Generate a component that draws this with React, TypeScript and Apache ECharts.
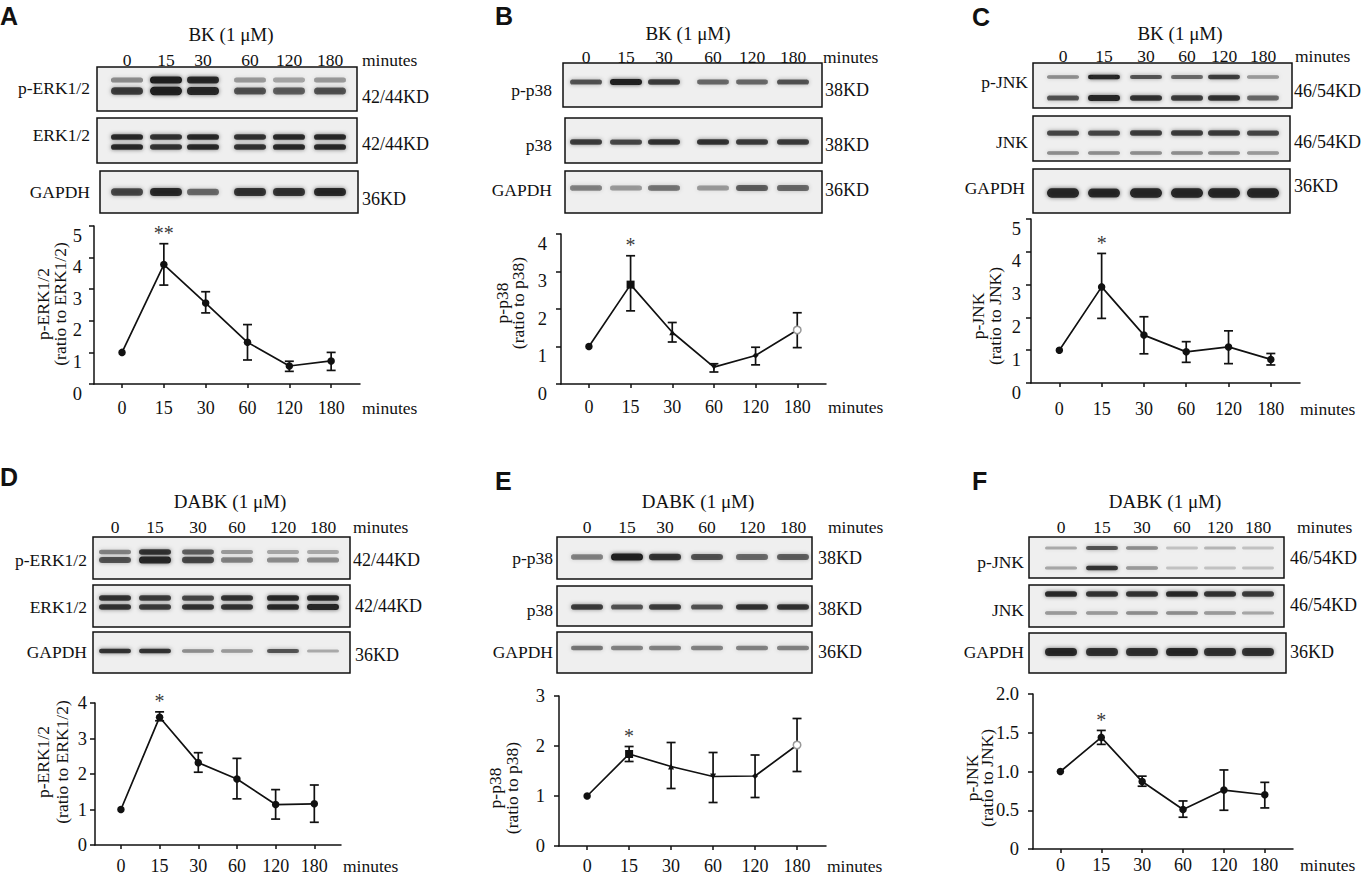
import React, { useEffect, useRef } from 'react';
import * as echarts from 'echarts';

// ---------- data ----------
const CATS = ['0', '15', '30', '60', '120', '180'];

const A_MEAN = [1, 3.78, 2.56, 1.32, 0.57, 0.73];
const A_UPPER = [1, 4.44, 2.92, 1.88, 0.72, 1.0];
const A_LOWER = [1, 3.13, 2.25, 0.76, 0.4, 0.43];

const B_MEAN = [1, 2.65, 1.38, 0.45, 0.76, 1.44];
const B_UPPER = [1, 3.42, 1.64, 0.54, 0.98, 1.9];
const B_LOWER = [1, 1.95, 1.12, 0.32, 0.51, 0.97];

const C_MEAN = [1, 2.93, 1.46, 0.95, 1.1, 0.72];
const C_UPPER = [1, 3.95, 2.02, 1.26, 1.59, 0.9];
const C_LOWER = [1, 1.97, 0.89, 0.63, 0.59, 0.55];

const D_MEAN = [1, 3.6, 2.32, 1.86, 1.14, 1.16];
const D_UPPER = [1, 3.75, 2.6, 2.44, 1.56, 1.69];
const D_LOWER = [1, 3.5, 2.05, 1.3, 0.73, 0.64];

const E_MEAN = [1, 1.84, 1.59, 1.39, 1.4, 2.02];
const E_UPPER = [1, 1.99, 2.07, 1.87, 1.82, 2.55];
const E_LOWER = [1, 1.69, 1.15, 0.87, 0.97, 1.49];

const F_MEAN = [1, 1.44, 0.87, 0.51, 0.76, 0.7];
const F_UPPER = [1, 1.53, 0.94, 0.62, 1.02, 0.86];
const F_LOWER = [1, 1.35, 0.81, 0.41, 0.5, 0.53];

const MEANS = [A_MEAN, B_MEAN, C_MEAN, D_MEAN, E_MEAN, F_MEAN];
const UPPERS = [A_UPPER, B_UPPER, C_UPPER, D_UPPER, E_UPPER, F_UPPER];
const LOWERS = [A_LOWER, B_LOWER, C_LOWER, D_LOWER, E_LOWER, F_LOWER];

const SIG = ['**', '*', '*', '*', '*', '*'];
const Y_MAX = [5, 4, 5, 4, 3, 2];
const Y_STEP = [1, 1, 1, 1, 1, 0.5];
const Y_NAMES = [
  ['p-ERK1/2', '(ratio to ERK1/2)'],
  ['p-p38', '(ratio to p38)'],
  ['p-JNK', '(ratio to JNK)'],
  ['p-ERK1/2', '(ratio to ERK1/2)'],
  ['p-p38', '(ratio to p38)'],
  ['p-JNK', '(ratio to JNK)'],
];
const LETTERS = ['A', 'B', 'C', 'D', 'E', 'F'];
const TREATMENTS = ['BK (1 μM)', 'BK (1 μM)', 'BK (1 μM)', 'DABK (1 μM)', 'DABK (1 μM)', 'DABK (1 μM)'];

// blot band intensities (0..1), per lane
const A_PERK44 = [0.45, 1, 0.9, 0.4, 0.35, 0.4];
const A_PERK42 = [0.8, 1, 0.95, 0.7, 0.65, 0.7];
const A_ERK44 = [0.9, 0.85, 0.9, 0.85, 0.9, 0.9];
const A_ERK42 = [0.9, 0.85, 0.9, 0.85, 0.9, 0.9];
const A_GAPDH = [0.75, 0.9, 0.6, 0.85, 0.85, 0.9];

const B_PP38 = [0.7, 1, 0.8, 0.6, 0.6, 0.7];
const B_P38 = [0.8, 0.75, 0.85, 0.85, 0.8, 0.8];
const B_GAPDH = [0.5, 0.4, 0.55, 0.4, 0.65, 0.6];

const C_PJNK54 = [0.45, 0.95, 0.7, 0.6, 0.8, 0.4];
const C_PJNK46 = [0.7, 0.95, 0.85, 0.8, 0.85, 0.6];
const C_JNK54 = [0.75, 0.75, 0.8, 0.8, 0.8, 0.75];
const C_JNK46 = [0.45, 0.45, 0.45, 0.45, 0.45, 0.4];
const C_GAPDH = [0.95, 0.9, 0.95, 0.95, 0.95, 0.95];

const D_PERK44 = [0.5, 0.85, 0.65, 0.4, 0.35, 0.3];
const D_PERK42 = [0.7, 0.95, 0.75, 0.5, 0.45, 0.45];
const D_ERK44 = [0.85, 0.8, 0.75, 0.85, 0.9, 0.9];
const D_ERK42 = [0.85, 0.8, 0.85, 0.85, 0.9, 0.95];
const D_GAPDH = [0.85, 0.85, 0.45, 0.4, 0.7, 0.3];

const E_PP38 = [0.5, 1, 0.85, 0.7, 0.6, 0.65];
const E_P38 = [0.8, 0.7, 0.8, 0.7, 0.85, 0.85];
const E_GAPDH = [0.55, 0.5, 0.5, 0.5, 0.5, 0.5];

const F_PJNK54 = [0.3, 0.7, 0.45, 0.2, 0.25, 0.2];
const F_PJNK46 = [0.35, 0.85, 0.4, 0.2, 0.2, 0.2];
const F_JNK54 = [0.9, 0.85, 0.85, 0.9, 0.85, 0.8];
const F_JNK46 = [0.4, 0.4, 0.45, 0.45, 0.4, 0.35];
const F_GAPDH = [0.9, 0.85, 0.85, 0.9, 0.85, 0.85];

// ---------- layout ----------
const SERIF = '"Liberation Serif", "Times New Roman", serif';
const SANS = '"Liberation Sans", Arial, sans-serif';
const X_MIN = -0.67;
const X_MAX = 5.69;
const MIXED = ['circle', 'rect', 'triangle', 'triangle', 'diamond', 'circle'];

const LAYOUT: any[] = [
  {
    letter: [0, 16], treat: [231, 34], laneY: 60, laneX: [127, 166, 203, 250, 289, 330], minX: 362,
    rows: [
      { label: 'p-ERK1/2', kd: '42/44KD', box: [97, 67, 357, 111], lr: 90, ly: 88, kx: 362, ky: 97, by: [80, 91], bh: [6, 7], bands: [A_PERK44, A_PERK42] },
      { label: 'ERK1/2', kd: '42/44KD', box: [97, 118, 357, 163], lr: 90, ly: 135, kx: 362, ky: 144, by: [137, 147], bh: [5, 5], bands: [A_ERK44, A_ERK42] },
      { label: 'GAPDH', kd: '36KD', box: [100, 171, 358, 213], lr: 90, ly: 192, kx: 362, ky: 199, by: [192], bh: [7], bands: [A_GAPDH] },
    ],
    grid: { left: 94, top: 226, width: 266, height: 158 }, yLabelTop: true, yMargin: 12,
    yNameX: [43, 60], yNameY: 304, xLabelY: 408, chartMinX: 362, mixed: false,
  },
  {
    letter: [495, 16], treat: [688, 33], laneY: 57, laneX: [586, 626, 664, 713, 752, 793], minX: 823,
    rows: [
      { label: 'p-p38', kd: '38KD', box: [563, 63, 822, 107], lr: 552, ly: 90, kx: 825, ky: 90, by: [82], bh: [5], bands: [B_PP38] },
      { label: 'p38', kd: '38KD', box: [565, 118, 822, 163], lr: 552, ly: 145, kx: 825, ky: 145, by: [142], bh: [5], bands: [B_P38] },
      { label: 'GAPDH', kd: '36KD', box: [565, 171, 822, 213], lr: 552, ly: 190, kx: 825, ky: 190, by: [188], bh: [6], bands: [B_GAPDH] },
    ],
    grid: { left: 561, top: 234, width: 265, height: 150 }, yLabelTop: true, yMargin: 14,
    yNameX: [502, 518], yNameY: 303, xLabelY: 407, chartMinX: 828, mixed: true,
  },
  {
    letter: [972, 17], treat: [1180, 33], laneY: 56, laneX: [1063, 1104, 1146, 1187, 1224, 1263], minX: 1295,
    rows: [
      { label: 'p-JNK', kd: '46/54KD', box: [1033, 63, 1292, 108], lr: 1028, ly: 82, kx: 1294, ky: 91, by: [77, 98], bh: [4, 5], bands: [C_PJNK54, C_PJNK46] },
      { label: 'JNK', kd: '46/54KD', box: [1033, 116, 1290, 161], lr: 1028, ly: 142, kx: 1294, ky: 142, by: [133, 153], bh: [5, 4], bands: [C_JNK54, C_JNK46] },
      { label: 'GAPDH', kd: '36KD', box: [1033, 169, 1290, 213], lr: 1025, ly: 188, kx: 1294, ky: 186, by: [193], bh: [8], bands: [C_GAPDH] },
    ],
    grid: { left: 1031, top: 219, width: 269, height: 164 }, yLabelTop: true, yMargin: 10,
    yNameX: [978, 995], yNameY: 316, xLabelY: 409, chartMinX: 1300, mixed: false,
  },
  {
    letter: [0, 477], treat: [230, 501], laneY: 527, laneX: [115, 155, 198, 237, 283, 323], minX: 353,
    rows: [
      { label: 'p-ERK1/2', kd: '42/44KD', box: [93, 537, 350, 579], lr: 87, ly: 560, kx: 353, ky: 560, by: [552, 560], bh: [5, 6], bands: [D_PERK44, D_PERK42] },
      { label: 'ERK1/2', kd: '42/44KD', box: [93, 585, 350, 627], lr: 87, ly: 607, kx: 355, ky: 606, by: [598, 607], bh: [5, 5], bands: [D_ERK44, D_ERK42] },
      { label: 'GAPDH', kd: '36KD', box: [93, 632, 350, 673], lr: 87, ly: 652, kx: 355, ky: 655, by: [651], bh: [4], bands: [D_GAPDH] },
    ],
    grid: { left: 95, top: 703, width: 246, height: 142 }, yLabelTop: false, yMargin: 8,
    yNameX: [43, 62], yNameY: 762, xLabelY: 866, chartMinX: 343, mixed: false,
  },
  {
    letter: [495, 481], treat: [698, 501], laneY: 527, laneX: [587, 627, 665, 707, 752, 793], minX: 828,
    rows: [
      { label: 'p-p38', kd: '38KD', box: [557, 537, 812, 579], lr: 553, ly: 558, kx: 818, ky: 558, by: [557], bh: [6], bands: [E_PP38] },
      { label: 'p38', kd: '38KD', box: [557, 586, 812, 626], lr: 553, ly: 610, kx: 818, ky: 609, by: [607], bh: [5], bands: [E_P38] },
      { label: 'GAPDH', kd: '36KD', box: [557, 632, 812, 673], lr: 553, ly: 652, kx: 818, ky: 652, by: [648], bh: [5], bands: [E_GAPDH] },
    ],
    grid: { left: 559, top: 696, width: 267, height: 150 }, yLabelTop: false, yMargin: 14,
    yNameX: [495, 512], yNameY: 788, xLabelY: 866, chartMinX: 827, mixed: true,
  },
  {
    letter: [972, 481], treat: [1165, 501], laneY: 527, laneX: [1061, 1102, 1142, 1182, 1220, 1258], minX: 1297,
    rows: [
      { label: 'p-JNK', kd: '46/54KD', box: [1029, 537, 1284, 578], lr: 1024, ly: 562, kx: 1290, ky: 558, by: [548, 568], bh: [4, 4], bands: [F_PJNK54, F_PJNK46] },
      { label: 'JNK', kd: '46/54KD', box: [1029, 585, 1284, 627], lr: 1024, ly: 610, kx: 1290, ky: 605, by: [594, 613], bh: [5, 4], bands: [F_JNK54, F_JNK46] },
      { label: 'GAPDH', kd: '36KD', box: [1029, 633, 1286, 673], lr: 1024, ly: 652, kx: 1290, ky: 652, by: [652], bh: [7], bands: [F_GAPDH] },
    ],
    grid: { left: 1033, top: 694, width: 260, height: 155 }, yLabelTop: false, yMargin: 14,
    yNameX: [972, 987], yNameY: 778, xLabelY: 865, chartMinX: 1300, mixed: false,
  },
];

function txt(text: string, x: number, y: number, opts: any = {}) {
  return {
    type: 'text',
    x,
    y,
    rotation: opts.rotation || 0,
    silent: true,
    style: {
      text,
      fill: '#111',
      fontSize: opts.size || 17.5,
      fontFamily: opts.family || SERIF,
      fontWeight: opts.weight || 'normal',
      align: opts.align || 'center',
      verticalAlign: 'middle',
    },
  };
}

function buildOption() {
  const graphics: any[] = [];
  const grids: any[] = [];
  const xAxes: any[] = [];
  const yAxes: any[] = [];
  const series: any[] = [];

  LAYOUT.forEach((L, i) => {
    graphics.push(txt(LETTERS[i], L.letter[0], L.letter[1], { size: 25, family: SANS, weight: 'bold', align: 'left' }));
    graphics.push(txt(TREATMENTS[i], L.treat[0], L.treat[1], { size: 19 }));
    CATS.forEach((c, j) => graphics.push(txt(c, L.laneX[j], L.laneY, { size: 17.5 })));
    graphics.push(txt('minutes', L.minX, L.laneY, { size: 17.5, align: 'left' }));

    L.rows.forEach((r: any) => {
      const [x0, y0, x1, y1] = r.box;
      graphics.push({
        type: 'rect',
        silent: true,
        shape: { x: x0, y: y0, width: x1 - x0, height: y1 - y0 },
        style: { fill: '#efefef', stroke: '#111', lineWidth: 1.5 },
      });
      r.bands.forEach((arr: number[], k: number) => {
        arr.forEach((v: number, j: number) => {
          const h = r.bh[k] * (0.6 + 0.6 * v);
          const w = 32;
          const cx = L.laneX[j];
          graphics.push({
            type: 'rect',
            silent: true,
            shape: { x: cx - w / 2, y: r.by[k] - h / 2, width: w, height: h, r: h / 2 },
            style: {
              fill: `rgba(18,18,18,${v * 0.92})`,
              shadowBlur: 4,
              shadowColor: `rgba(18,18,18,${v * 0.7})`,
            },
          });
        });
      });
      graphics.push(txt(r.label, r.lr, r.ly, { align: 'right' }));
      graphics.push(txt(r.kd, r.kx, r.ky, { align: 'left', size: 18 }));
    });

    // y axis names (two lines, rotated)
    graphics.push(txt(Y_NAMES[i][0], L.yNameX[0], L.yNameY, { size: 17.5, rotation: Math.PI / 2 }));
    graphics.push(txt(Y_NAMES[i][1], L.yNameX[1], L.yNameY, { size: 17.5, rotation: Math.PI / 2 }));
    graphics.push(txt('minutes', L.chartMinX, L.xLabelY, { size: 17.5, align: 'left' }));

    const g = L.grid;
    grids.push({ left: g.left, top: g.top, width: g.width, height: g.height, containLabel: false, outerBoundsMode: 'none' });
    const xMargin = L.xLabelY - (g.top + g.height) - 9;
    xAxes.push({
      type: 'value',
      gridIndex: i,
      min: X_MIN,
      max: X_MAX,
      position: 'bottom',
      axisLine: { show: true, onZero: false, lineStyle: { color: '#111', width: 1.5 } },
      axisTick: { show: true, length: 4, customValues: [0, 1, 2, 3, 4, 5], lineStyle: { color: '#111', width: 1.5 } },
      axisLabel: {
        customValues: [0, 1, 2, 3, 4, 5],
        formatter: (v: number) => CATS[Math.round(v)],
        margin: xMargin,
        fontSize: 18,
        fontFamily: SERIF,
        color: '#111',
      },
      splitLine: { show: false },
    });
    yAxes.push({
      type: 'value',
      gridIndex: i,
      min: 0,
      max: Y_MAX[i],
      interval: Y_STEP[i],
      position: 'left',
      axisLine: { show: true, onZero: false, lineStyle: { color: '#111', width: 1.5 } },
      axisTick: { show: true, length: 5, lineStyle: { color: '#111', width: 1.5 } },
      axisLabel: {
        margin: L.yMargin,
        fontSize: 18.5,
        fontFamily: SERIF,
        color: '#111',
        verticalAlign: L.yLabelTop ? 'top' : 'middle',
        formatter: (v: number) => (Y_STEP[i] < 1 ? (v === 0 ? '0' : v.toFixed(1)) : String(v)),
      },
      splitLine: { show: false },
    });

    const mean = MEANS[i];
    const up = UPPERS[i];
    const lo = LOWERS[i];

    series.push({
      type: 'custom',
      xAxisIndex: i,
      yAxisIndex: i,
      z: 2,
      silent: true,
      data: CATS.map((c, j) => [j, lo[j], up[j]]).filter((d) => d[2] > d[1]),
      renderItem: (params: any, api: any) => {
        const x = api.value(0);
        const pLo = api.coord([x, api.value(1)]);
        const pHi = api.coord([x, api.value(2)]);
        const w = 4.5;
        const st = { stroke: '#111', lineWidth: 1.7 };
        return {
          type: 'group',
          children: [
            { type: 'line', shape: { x1: pLo[0], y1: pLo[1], x2: pHi[0], y2: pHi[1] }, style: st },
            { type: 'line', shape: { x1: pLo[0] - w, y1: pLo[1], x2: pLo[0] + w, y2: pLo[1] }, style: st },
            { type: 'line', shape: { x1: pHi[0] - w, y1: pHi[1], x2: pHi[0] + w, y2: pHi[1] }, style: st },
          ],
        };
      },
    });

    series.push({
      type: 'line',
      xAxisIndex: i,
      yAxisIndex: i,
      z: 3,
      silent: true,
      symbol: 'circle',
      symbolSize: 7.5,
      lineStyle: { color: '#111', width: 1.7 },
      itemStyle: { color: '#111' },
      data: CATS.map((c, j) => {
        const item: any = { value: [j, mean[j]] };
        if (L.mixed) {
          item.symbol = MIXED[j];
          item.symbolSize = j === 1 ? 8 : j === 0 || j === 5 ? 7.5 : 6;
          if (j === 3) item.symbolRotate = 180;
          if (j === 5) item.itemStyle = { color: '#fff', borderColor: '#999', borderWidth: 1.5 };
        }
        return item;
      }),
    });

    series.push({
      type: 'scatter',
      xAxisIndex: i,
      yAxisIndex: i,
      z: 4,
      silent: true,
      symbolSize: 1,
      itemStyle: { color: 'rgba(0,0,0,0)' },
      label: {
        show: true,
        formatter: SIG[i],
        position: 'top',
        distance: 0,
        fontSize: 20,
        fontFamily: SERIF,
        color: '#000',
      },
      data: [[1, up[1]]],
    });
  });

  return {
    animation: false,
    backgroundColor: '#ffffff',
    grid: grids,
    xAxis: xAxes,
    yAxis: yAxes,
    series,
    graphic: { elements: graphics },
  };
}

export default function App() {
  const ref = useRef<HTMLDivElement>(null);
  useEffect(() => {
    if (!ref.current) return;
    const chart = echarts.init(ref.current, undefined, { renderer: 'svg' });
    chart.setOption(buildOption() as any);
    return () => chart.dispose();
  }, []);
  return (
    <div
      ref={ref}
      style={{ position: 'absolute', left: 0, top: 0, width: 1361, height: 877, background: '#fff' }}
    />
  );
}
